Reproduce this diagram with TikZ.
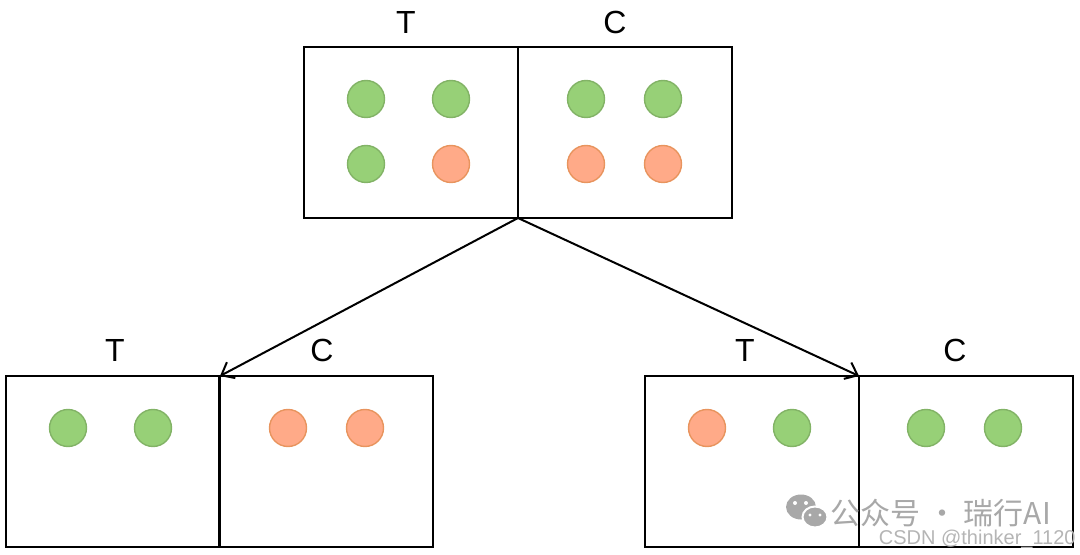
\documentclass[tikz,border=0pt]{standalone}
\usepackage{fontspec}
\setmainfont{Liberation Sans}
\newfontfamily\cjkfont{Noto Sans CJK SC}
\usetikzlibrary{arrows.meta,shapes.geometric}
\definecolor{gfill}{HTML}{97D077}
\definecolor{gline}{HTML}{82B366}
\definecolor{ofill}{HTML}{FFAA88}
\definecolor{oline}{HTML}{E8945E}
\definecolor{wm}{HTML}{A8A8A8}
\tikzset{
  half/.style={draw=black,line width=1pt,minimum width=107pt,minimum height=85.5pt,inner sep=0pt,outer sep=0pt},
  ball/.style={circle,minimum size=18.5pt,inner sep=0pt,line width=0.7pt},
  gball/.style={ball,draw=gline,fill=gfill},
  oball/.style={ball,draw=oline,fill=ofill},
  lab/.style={font=\fontsize{16}{18}\selectfont,inner sep=0pt},
  conn/.style={line width=1pt,-{Straight Barb[length=5.5pt,width=9pt,line width=1pt]}},
}
\begin{document}
\begin{tikzpicture}[x=0.5pt,y=-0.5pt]
\useasboundingbox (0,0) rectangle (1080,555);
% top
\node[half] (tl) at (411,132.5) {};
\node[half] (tr) at (624.5,132.5) {};
\node[lab] (tT) at (406,22) {T};
\node[lab] (tC) at (615,22) {C};
\node[gball] (a1) at (366,99) {};
\node[gball] (a2) at (451,99) {};
\node[gball] (a3) at (366,164) {};
\node[oball] (a4) at (451,164) {};
\node[gball] (a5) at (586,99) {};
\node[gball] (a6) at (663,99) {};
\node[oball] (a7) at (586,164) {};
\node[oball] (a8) at (663,164) {};
% bottom left
\node[half] (ll) at (113,461.5) {};
\node[half] (lr) at (326,461.5) {};
\node[lab] (lT) at (115,350) {T};
\node[lab] (lC) at (322,350) {C};
\node[gball] (b1) at (68,428) {};
\node[gball] (b2) at (153,428) {};
\node[oball] (b3) at (288,428) {};
\node[oball] (b4) at (365,428) {};
% bottom right
\node[half] (rl) at (752,461.5) {};
\node[half] (rr) at (965.5,461.5) {};
\node[lab] (rT) at (745,350) {T};
\node[lab] (rC) at (955,350) {C};
\node[oball] (c1) at (707,428) {};
\node[gball] (c2) at (792,428) {};
\node[gball] (c3) at (926,428) {};
\node[gball] (c4) at (1003,428) {};
% connectors
\draw[conn] (tl.south east) -- (ll.north east);
\draw[conn] (tl.south east) -- (rl.north east);
% watermark
\fill[wm] (801,507) ellipse [x radius=15, y radius=12.5];
\fill[wm,draw=white,line width=1pt] (815,517) ellipse [x radius=12.5, y radius=10.5];
\fill[white] (795,503) circle (2) (806,503) circle (2) (810,515) circle (1.7) (820,515) circle (1.7);
\node[inner sep=0pt,anchor=west,text=wm,font=\cjkfont\fontsize{15}{17}\selectfont] (wmt) at (830,513) {公众号 · 瑞行AI};
\node[inner sep=0pt,anchor=east,text=wm!85,font=\fontsize{10}{12}\selectfont] (wmc) at (1076,539) {CSDN @thinker\_1120};
\end{tikzpicture}
\end{document}
